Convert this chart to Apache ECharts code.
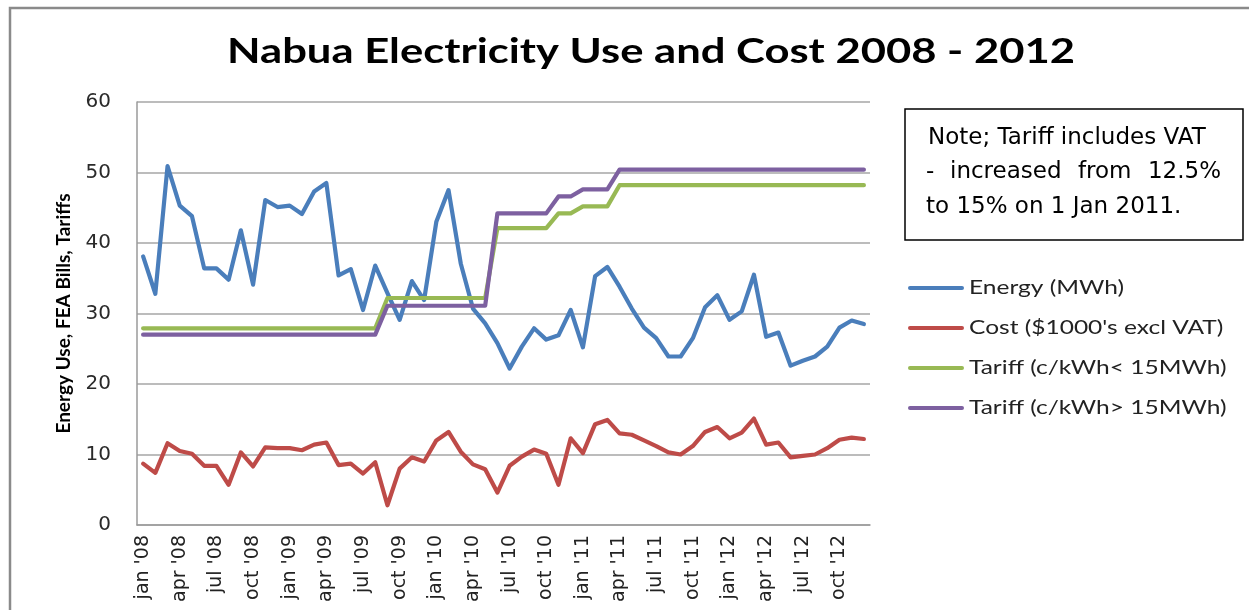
<!DOCTYPE html>
<html>
<head>
<meta charset="utf-8">
<title>Nabua Electricity Use and Cost 2008 - 2012</title>
<script src="https://cdn.jsdelivr.net/npm/echarts@6/dist/echarts.min.js"></script>
<style>
  html, body { margin: 0; padding: 0; background: #fff; }
  #chart { width: 1249px; height: 610px; }
</style>
</head>
<body>
<div id="chart"></div>
<script>
// Monthly categories, Jan 2008 - Dec 2012
const months = [
  "jan '08","feb '08","mar '08","apr '08","may '08","jun '08","jul '08","aug '08","sep '08","oct '08","nov '08","dec '08",
  "jan '09","feb '09","mar '09","apr '09","may '09","jun '09","jul '09","aug '09","sep '09","oct '09","nov '09","dec '09",
  "jan '10","feb '10","mar '10","apr '10","may '10","jun '10","jul '10","aug '10","sep '10","oct '10","nov '10","dec '10",
  "jan '11","feb '11","mar '11","apr '11","may '11","jun '11","jul '11","aug '11","sep '11","oct '11","nov '11","dec '11",
  "jan '12","feb '12","mar '12","apr '12","may '12","jun '12","jul '12","aug '12","sep '12","oct '12","nov '12","dec '12"
];

// Energy use (MWh)
const energy = [
  38.1, 32.8, 50.9, 45.3, 43.8, 36.4, 36.4, 34.8, 41.8, 34.1, 46.1, 45.1,
  45.3, 44.1, 47.3, 48.5, 35.4, 36.3, 30.5, 36.8, 32.9, 29.1, 34.6, 31.9,
  43.0, 47.5, 37.1, 30.7, 28.6, 25.8, 22.2, 25.3, 27.9, 26.3, 26.9, 30.5,
  25.2, 35.3, 36.6, 33.8, 30.7, 28.0, 26.5, 23.9, 23.9, 26.5, 30.9, 32.6,
  29.1, 30.3, 35.5, 26.7, 27.3, 22.6, 23.3, 23.9, 25.3, 28.0, 29.0, 28.5
];

// Cost ($1000's excl VAT)
const cost = [
  8.7, 7.4, 11.6, 10.5, 10.1, 8.4, 8.4, 5.7, 10.3, 8.3, 11.0, 10.9,
  10.9, 10.6, 11.4, 11.7, 8.5, 8.7, 7.3, 8.9, 2.8, 8.0, 9.6, 9.0,
  12.0, 13.2, 10.4, 8.6, 7.9, 4.6, 8.4, 9.7, 10.7, 10.1, 5.7, 12.3,
  10.2, 14.3, 14.9, 13.0, 12.8, 12.0, 11.2, 10.3, 10.0, 11.2, 13.2, 13.9,
  12.3, 13.1, 15.1, 11.4, 11.7, 9.6, 9.8, 10.0, 10.9, 12.1, 12.4, 12.2
];

// Tariff (c/kWh), consumption under 15 MWh
const tariffLow = [
  27.9, 27.9, 27.9, 27.9, 27.9, 27.9, 27.9, 27.9, 27.9, 27.9, 27.9, 27.9,
  27.9, 27.9, 27.9, 27.9, 27.9, 27.9, 27.9, 27.9, 32.2, 32.2, 32.2, 32.2,
  32.2, 32.2, 32.2, 32.2, 32.2, 42.1, 42.1, 42.1, 42.1, 42.1, 44.2, 44.2,
  45.2, 45.2, 45.2, 48.2, 48.2, 48.2, 48.2, 48.2, 48.2, 48.2, 48.2, 48.2,
  48.2, 48.2, 48.2, 48.2, 48.2, 48.2, 48.2, 48.2, 48.2, 48.2, 48.2, 48.2
];

// Tariff (c/kWh), consumption over 15 MWh
const tariffHigh = [
  27.0, 27.0, 27.0, 27.0, 27.0, 27.0, 27.0, 27.0, 27.0, 27.0, 27.0, 27.0,
  27.0, 27.0, 27.0, 27.0, 27.0, 27.0, 27.0, 27.0, 31.1, 31.1, 31.1, 31.1,
  31.1, 31.1, 31.1, 31.1, 31.1, 44.2, 44.2, 44.2, 44.2, 44.2, 46.6, 46.6,
  47.6, 47.6, 47.6, 50.4, 50.4, 50.4, 50.4, 50.4, 50.4, 50.4, 50.4, 50.4,
  50.4, 50.4, 50.4, 50.4, 50.4, 50.4, 50.4, 50.4, 50.4, 50.4, 50.4, 50.4
];

const seriesNames = [
  "Energy (MWh)",
  "Cost ($1000's excl VAT)",
  "Tariff (c/kWh< 15MWh)",
  "Tariff (c/kWh> 15MWh)"
];
const seriesColors = ['#4a7ebb', '#be4b48', '#98b954', '#7d60a0'];
const seriesData = [energy, cost, tariffLow, tariffHigh];

const titleText = 'Nabua Electricity Use and Cost 2008 - 2012';

// Note box text; the middle line is spread across the box width
const noteLine1 = 'Note; Tariff includes VAT';
const noteLine2Words = ['-', 'increased', 'from', '12.5%'];
const noteLine3 = 'to 15% on 1 Jan 2011.';

const chart = echarts.init(document.getElementById('chart'), null, { renderer: 'canvas' });

// hand-placed legend block to the right of the plot
const legendX = 910, legendY = 288, legendStep = 40, legendLine = 52;
const legendGraphics = [];
seriesNames.forEach((name, i) => {
  const y = legendY + i * legendStep;
  legendGraphics.push({
    type: 'line',
    shape: { x1: legendX, y1: y, x2: legendX + legendLine, y2: y },
    style: { stroke: seriesColors[i], lineWidth: 4, lineCap: 'round' },
    z: 100
  });
  legendGraphics.push({
    type: 'text',
    x: legendX + legendLine + 7,
    y: y,
    scaleX: 1.29,
    style: {
      text: name,
      x: 0, y: 0,
      align: 'left',
      verticalAlign: 'middle',
      fontFamily: 'Lato',
      fontSize: 19,
      fill: '#222'
    },
    z: 100
  });
});

const noteFont = { fontFamily: 'DejaVu Sans', fontSize: 23, fill: '#000' };
// left edges of the justified middle line; the last word is right-aligned
const line2X = [926, 950, 1078, 1221];

const option = {
  backgroundColor: '#ffffff',
  animation: false,
  grid: {
    left: 137,
    right: 379,
    top: 102,
    bottom: 85,
    containLabel: false
  },
  xAxis: {
    type: 'category',
    data: months,
    boundaryGap: true,
    axisLine: { lineStyle: { color: '#9a9a9a', width: 1.5 } },
    axisTick: { show: false },
    axisLabel: {
      interval: 2,
      rotate: 90,
      margin: 10,
      fontFamily: 'DejaVu Sans',
      fontSize: 19,
      color: '#222'
    }
  },
  yAxis: {
    type: 'value',
    min: 0,
    max: 60,
    interval: 10,
    name: 'Energy Use, FEA Bills, Tariffs',
    nameLocation: 'middle',
    nameRotate: 90,
    nameGap: 64,
    nameTextStyle: {
      fontFamily: 'Lato',
      fontWeight: 'bold',
      fontSize: 19,
      color: '#000'
    },
    axisLine: { show: true, lineStyle: { color: '#9a9a9a', width: 1.5 } },
    axisTick: { show: false },
    axisLabel: {
      margin: 26,
      fontFamily: 'DejaVu Sans',
      fontSize: 20,
      color: '#2a2a2a'
    },
    splitLine: { lineStyle: { color: '#a6a6a6', width: 1.5 } }
  },
  series: seriesNames.map((name, i) => ({
    name: name,
    type: 'line',
    data: seriesData[i],
    symbol: 'none',
    smooth: false,
    color: seriesColors[i],
    lineStyle: { width: 4.2, color: seriesColors[i], cap: 'round', join: 'round' },
    z: [2, 3, 4, 5][i]
  })),
  graphic: [
    // outer frame of the chart area (runs off the right and bottom edges)
    {
      type: 'rect',
      shape: { x: 10, y: 8, width: 1300, height: 700 },
      style: { fill: 'none', stroke: '#8a8a8a', lineWidth: 2.5 },
      silent: true,
      z: 100
    },
    // chart title, widened to the frame's proportions
    {
      type: 'text',
      x: 651,
      y: 52,
      scaleX: 1.245,
      style: {
        text: titleText,
        x: 0, y: 0,
        align: 'center',
        verticalAlign: 'middle',
        fontFamily: 'Lato',
        fontWeight: 'bold',
        fontSize: 35,
        fill: '#000'
      },
      z: 100
    },
    // note box
    {
      type: 'rect',
      shape: { x: 905, y: 109, width: 338, height: 131 },
      style: { fill: '#fff', stroke: '#000', lineWidth: 1.5 },
      z: 100
    },
    {
      type: 'text', x: 928, y: 138,
      style: Object.assign({ text: noteLine1, align: 'left', verticalAlign: 'middle' }, noteFont),
      z: 101
    },
    ...noteLine2Words.map((w, i) => ({
      type: 'text', x: line2X[i], y: 172,
      style: Object.assign({ text: w, align: i === 3 ? 'right' : 'left', verticalAlign: 'middle' }, noteFont),
      z: 101
    })),
    {
      type: 'text', x: 926, y: 207,
      style: Object.assign({ text: noteLine3, align: 'left', verticalAlign: 'middle' }, noteFont),
      z: 101
    },
    ...legendGraphics
  ]
};

chart.setOption(option);
</script>
</body>
</html>
